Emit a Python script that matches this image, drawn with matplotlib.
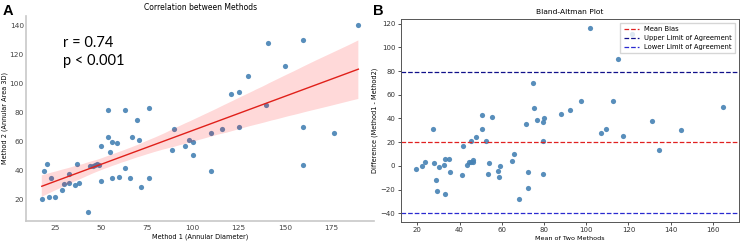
import numpy as np
import matplotlib
matplotlib.use("Agg")
import matplotlib.pyplot as plt
import seaborn as sns

method1 = [18, 19, 21, 22, 23, 25, 29, 30, 33, 33, 36, 37, 38, 43, 44, 46, 47, 48, 49,
           50, 50, 54, 54, 55, 56, 56, 59, 60, 63, 63, 66, 67, 70, 71, 72, 76, 76, 89,
           90, 96, 98, 100, 100, 110, 110, 116, 121, 125, 125, 130, 140, 141, 150, 160,
           160, 160, 177, 190]
method2 = [21, 40, 45, 22, 35, 22, 27, 31, 38, 32, 30, 45, 32, 12, 43, 43, 44, 45, 44,
           33, 57, 82, 63, 53, 60, 35, 59, 36, 82, 42, 35, 63, 75, 61, 29, 83, 35, 54,
           69, 57, 61, 60, 51, 66, 40, 69, 93, 94, 70, 105, 85, 128, 112, 130,
           70, 44, 66, 140]
r_text = "r = 0.74\np < 0.001"

m1 = np.array(method1, dtype=float)
m2 = np.array(method2, dtype=float)
mean_pair = (m1 + m2) / 2
diff_pair = m1 - m2
bias = diff_pair.mean()
sd = diff_pair.std(ddof=1)
upper = bias + 1.96 * sd
lower = bias - 1.96 * sd

fig = plt.figure(figsize=(7.41, 2.42), dpi=100)
axA = fig.add_axes([0.035, 0.087, 0.470, 0.847])
axB = fig.add_axes([0.541, 0.083, 0.456, 0.838])

# --- panel A: correlation ---
sns.regplot(x=m1, y=m2, ax=axA, seed=3,
            scatter_kws=dict(s=14, color="#4682b4", alpha=0.9, linewidths=0),
            line_kws=dict(color="#e0201a", lw=1.0))
for coll in axA.collections[1:]:
    coll.set_facecolor("red")
    coll.set_alpha(0.15)
axA.set_title("Correlation between Methods", fontsize=5.5, pad=4)
axA.set_xlabel("Method 1 (Annular Diameter)", fontsize=4.7, labelpad=2)
axA.set_ylabel("Method 2 (Annular Area 3D)", fontsize=4.7, labelpad=1)
axA.set_xticks([25, 50, 75, 100, 125, 150, 175])
axA.set_yticks([20, 40, 60, 80, 100, 120, 140])
axA.tick_params(axis="x", labelsize=5.3, length=0, pad=3, colors="#444444")
axA.tick_params(axis="y", labelsize=5.3, length=0, pad=1.5, colors="#444444")
for side in ["top", "right"]:
    axA.spines[side].set_visible(False)
for side in ["left", "bottom"]:
    axA.spines[side].set_color("#c8c8c8")
    axA.spines[side].set_linewidth(1.2)
axA.text(0.105, 0.825, r_text, transform=axA.transAxes, fontsize=10.5,
         family="Lato", va="center", ha="left", linespacing=1.4)

# --- panel B: Bland-Altman ---
axB.scatter(mean_pair, diff_pair, s=14, color="#4682b4", alpha=0.9, linewidths=0)
axB.axhline(bias, color="#e02020", ls="--", lw=0.9, label="Mean Bias")
axB.axhline(upper, color="#10108a", ls="--", lw=0.9, label="Upper Limit of Agreement")
axB.axhline(lower, color="#2a2ad0", ls="--", lw=0.9, label="Lower Limit of Agreement")
axB.set_title("Bland-Altman Plot", fontsize=5.4, pad=4)
axB.set_xlabel("Mean of Two Methods", fontsize=4.6, labelpad=1.5)
axB.set_ylabel("Difference (Method1 - Method2)", fontsize=4.7, labelpad=2)
axB.set_yticks([-40, -20, 0, 20, 40, 60, 80, 100, 120])
axB.set_xticks([20, 40, 60, 80, 100, 120, 140, 160])
axB.tick_params(labelsize=5, length=2.5, width=0.6, pad=1.5, colors="#333333")
for s in axB.spines.values():
    s.set_color("#555555")
    s.set_linewidth(0.7)
axB.legend(loc="upper right", fontsize=4.9, frameon=True, borderpad=0.5,
           handlelength=2.2, labelspacing=0.45, fancybox=False, edgecolor="#cccccc")

fig.text(0.003, 0.985, "A", fontsize=10.5, fontweight="bold", family="Liberation Sans",
         va="top", ha="left")
fig.text(0.504, 0.985, "B", fontsize=10.5, fontweight="bold", family="Liberation Sans",
         va="top", ha="left")

fig.savefig("out.png", dpi=100)
